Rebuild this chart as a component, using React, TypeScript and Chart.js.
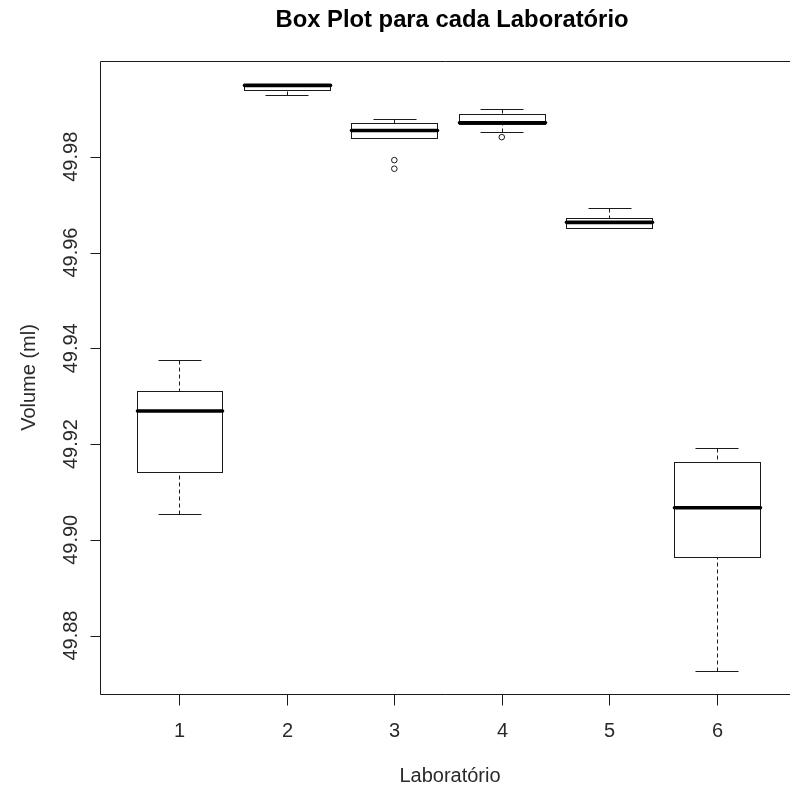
import { useEffect, useRef } from 'react';
import { Chart, registerables } from 'chart.js';

Chart.register(...registerables);

// Laboratories on the x axis
const labs = [1, 2, 3, 4, 5, 6];
const labLabels = ['1', '2', '3', '4', '5', '6'];

// Five-number summaries per laboratory (ml)
const whiskerLow = [49.9054, 49.993, 49.984, 49.9851, 49.9652, 49.8727];
const lowerHinge = [49.9141, 49.9939, 49.984, 49.9869, 49.9652, 49.8965];
const medians = [49.9269, 49.9949, 49.9855, 49.9871, 49.9663, 49.9067];
const upperHinge = [49.9311, 49.9952, 49.9871, 49.989, 49.9673, 49.9162];
const whiskerHigh = [49.9376, 49.9952, 49.9879, 49.99, 49.9692, 49.9192];

// Points beyond the whiskers
const outlierLab = [3, 3, 4];
const outlierValue = [49.9793, 49.9775, 49.9841];

// Y axis ticks
const yTicks = [49.88, 49.9, 49.92, 49.94, 49.96, 49.98];
const yTickLabels = ['49.88', '49.90', '49.92', '49.94', '49.96', '49.98'];

// Plot region runs past the right edge of the canvas
const X_MIN = 0.26;
const X_MAX = 6.648;
const Y_MIN = 49.8678;
const Y_MAX = 50.0;

const FONT = '"Liberation Sans", Arial, Helvetica, sans-serif';
const INK = '#1a1a1a';
const TEXT = '#2a2a2a';

const crisp = (v: number) => Math.round(v) + 0.5;

const boxplotPlugin = {
  id: 'rBoxplot',
  beforeDatasetsDraw(chart: any) {
    const { ctx, chartArea, scales } = chart;
    const xs = scales.x;
    const ys = scales.y;
    const { left, right, top, bottom } = chartArea;
    const unit = xs.getPixelForValue(1) - xs.getPixelForValue(0);

    ctx.save();
    ctx.strokeStyle = INK;
    ctx.lineWidth = 1;

    labs.forEach((lab, i) => {
      const xc = xs.getPixelForValue(lab);
      const xcc = crisp(xc);
      const yLo = crisp(ys.getPixelForValue(whiskerLow[i]));
      const yQ1 = crisp(ys.getPixelForValue(lowerHinge[i]));
      const yMed = ys.getPixelForValue(medians[i]);
      const yQ3 = crisp(ys.getPixelForValue(upperHinge[i]));
      const yHi = crisp(ys.getPixelForValue(whiskerHigh[i]));

      // dashed whiskers
      ctx.setLineDash([4, 3]);
      ctx.beginPath();
      ctx.moveTo(xcc, yHi);
      ctx.lineTo(xcc, yQ3);
      ctx.moveTo(xcc, yLo);
      ctx.lineTo(xcc, yQ1);
      ctx.stroke();
      ctx.setLineDash([]);

      // staples
      const sl = crisp(xc - 0.2 * unit);
      const sr = crisp(xc + 0.2 * unit);
      ctx.beginPath();
      ctx.moveTo(sl, yHi);
      ctx.lineTo(sr, yHi);
      ctx.moveTo(sl, yLo);
      ctx.lineTo(sr, yLo);
      ctx.stroke();

      // box
      const bl = crisp(xc - 0.4 * unit);
      const br = crisp(xc + 0.4 * unit);
      ctx.fillStyle = '#ffffff';
      ctx.fillRect(bl, yQ3, br - bl, yQ1 - yQ3);
      ctx.strokeRect(bl, yQ3, br - bl, yQ1 - yQ3);

      // median
      ctx.save();
      ctx.lineWidth = 3.6;
      ctx.lineCap = 'round';
      ctx.strokeStyle = '#000';
      ctx.beginPath();
      ctx.moveTo(bl, yMed);
      ctx.lineTo(br, yMed);
      ctx.stroke();
      ctx.restore();
    });

    // plot frame (left, top, bottom; the right side lies beyond the canvas)
    const fl = crisp(left);
    const ft = crisp(top);
    const fb = crisp(bottom);
    ctx.beginPath();
    ctx.moveTo(right + 20, ft);
    ctx.lineTo(fl, ft);
    ctx.lineTo(fl, fb);
    ctx.lineTo(right + 20, fb);
    ctx.stroke();

    // x axis ticks and labels
    ctx.fillStyle = TEXT;
    ctx.font = `20px ${FONT}`;
    ctx.textAlign = 'center';
    ctx.textBaseline = 'alphabetic';
    labs.forEach((lab, i) => {
      const x = crisp(xs.getPixelForValue(lab));
      ctx.beginPath();
      ctx.moveTo(x, fb);
      ctx.lineTo(x, fb + 11);
      ctx.stroke();
      ctx.fillText(labLabels[i], x, bottom + 43);
    });

    // y axis ticks and rotated labels
    yTicks.forEach((v, i) => {
      const y = crisp(ys.getPixelForValue(v));
      ctx.beginPath();
      ctx.moveTo(fl - 10, y);
      ctx.lineTo(fl, y);
      ctx.stroke();
      ctx.save();
      ctx.translate(77, ys.getPixelForValue(v));
      ctx.rotate(-Math.PI / 2);
      ctx.fillText(yTickLabels[i], 0, 0);
      ctx.restore();
    });

    // axis titles
    ctx.fillText('Laboratório', 450, 782);
    ctx.save();
    ctx.translate(35, (top + bottom) / 2);
    ctx.rotate(-Math.PI / 2);
    ctx.fillText('Volume (ml)', 0, 0);
    ctx.restore();

    // main title
    ctx.fillStyle = '#000';
    ctx.font = `bold 23.8px ${FONT}`;
    ctx.fillText('Box Plot para cada Laboratório', 452, 27);

    ctx.restore();
  },
};

export default function App() {
  const canvasRef = useRef<HTMLCanvasElement>(null);

  useEffect(() => {
    const canvas = canvasRef.current;
    if (!canvas) return;
    const chart = new Chart(canvas, {
      type: 'scatter',
      data: {
        datasets: [
          {
            label: 'outliers',
            data: outlierLab.map((lab, i) => ({ x: lab, y: outlierValue[i] })),
            pointStyle: 'circle',
            pointRadius: 2.8,
            pointHoverRadius: 2.8,
            borderColor: INK,
            backgroundColor: 'rgba(255,255,255,0)',
            borderWidth: 1,
          },
        ],
      },
      options: {
        animation: false,
        responsive: false,
        devicePixelRatio: 1,
        events: [],
        layout: { padding: { left: 100, top: 61, right: 0, bottom: 95 } },
        scales: {
          x: { type: 'linear', min: X_MIN, max: X_MAX, display: false },
          y: { type: 'linear', min: Y_MIN, max: Y_MAX, display: false },
        },
        plugins: {
          legend: { display: false },
          tooltip: { enabled: false },
          title: { display: false },
        },
      },
      plugins: [boxplotPlugin],
    });
    return () => chart.destroy();
  }, []);

  return (
    <div
      style={{
        position: 'fixed',
        left: 0,
        top: 0,
        width: 790,
        height: 789,
        overflow: 'hidden',
        background: '#ffffff',
      }}
    >
      <canvas ref={canvasRef} width={790} height={789} style={{ display: 'block' }} />
    </div>
  );
}
